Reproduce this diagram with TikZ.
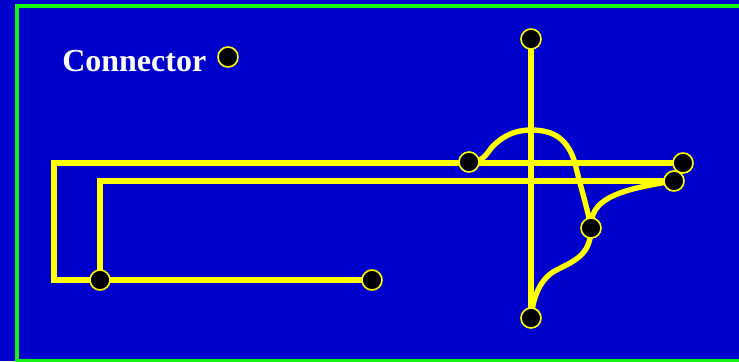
\documentclass[tikz,border=0pt]{standalone}
\usepackage{fontspec}
\setmainfont{Liberation Serif}
\usetikzlibrary{backgrounds}
\definecolor{bgblue}{RGB}{0,0,204}
\definecolor{frgreen}{RGB}{20,245,20}
\definecolor{wyellow}{RGB}{255,255,0}
\begin{document}
\begin{tikzpicture}[x=0.75pt,y=-0.75pt,
  conn/.style={circle,fill=black,draw=wyellow,line width=1.2pt,minimum size=15pt,inner sep=0pt},
  wire/.style={draw=wyellow,line width=4pt},
  lbl/.style={text=white,font=\fontsize{24}{27}\selectfont\bfseries,inner sep=0pt}]
\useasboundingbox (0,0) rectangle (739,361);
\node[conn] (L) at (228,57) {};
\node[lbl,anchor=base west] (T) at (62,71) {Connector};
\node[conn] (A) at (531,39) {};
\node[conn] (B) at (469,162) {};
\node[conn] (C) at (683,163) {};
\node[conn] (D) at (674,181) {};
\node[conn] (E) at (591,228) {};
\node[conn] (F) at (531,318) {};
\node[conn] (G) at (100,280) {};
\node[conn] (H) at (372,280) {};
\coordinate (c1) at (54,163);
\coordinate (c2) at (54,280);
\coordinate (d1) at (100,181);
\begin{pgfonlayer}{background}
\fill[bgblue] (0,0) rectangle (739,361);
\draw[frgreen,line width=3pt] (17,6) rectangle (760,361);
\draw[wire,line join=miter] (C.center) -- (c1) -- (c2) -- (G.center);
\draw[wire,line join=miter] (D.center) -- (d1) -- (G.center);
\draw[wire] (G.center) -- (H.center);
\draw[wire] (A.center) -- (F.center);
\draw[wire] (B.center) .. controls (485,162) and (487,152) .. (493,146)
  .. controls (503,136) and (515,130) .. (531,130)
  .. controls (555,130) and (568,140) .. (575,163)
  .. controls (580,185) and (588,210) .. (E.center);
\draw[wire] (D.center) .. controls (615,190) and (590,200) .. (E.center);
\draw[wire] (E.center) .. controls (591,258) and (570,262) .. (553,272)
  .. controls (538,282) and (533,300) .. (F.center);
\end{pgfonlayer}
\end{tikzpicture}
\end{document}
